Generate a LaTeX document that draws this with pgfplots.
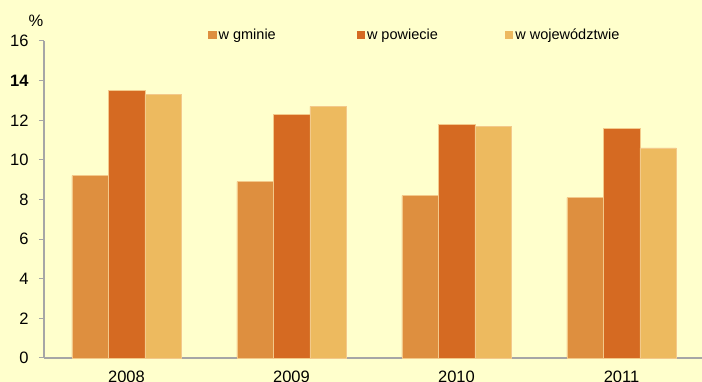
\documentclass[border=0pt]{standalone}
\usepackage{pgfplots}
\pgfplotsset{compat=1.18}
\usepackage{fontspec}
\setmainfont{Liberation Sans}
\definecolor{bg}{HTML}{FFFFCC}
\definecolor{cA}{HTML}{DE8F3F}
\definecolor{cB}{HTML}{D56A22}
\definecolor{cC}{HTML}{EDBA5F}
\definecolor{edge}{HTML}{F3C98A}
\definecolor{axgray}{HTML}{A6A6A6}
\begin{document}
\begin{tikzpicture}[x=1pt,y=1pt]
\useasboundingbox (0,0) rectangle (702,382);
\fill[bg] (0,0) rectangle (702,382);
\begin{axis}[
  at={(44pt,24pt)}, anchor=south west,
  scale only axis, width=660pt, height=317pt,
  xmin=-0.5, xmax=3.5, ymin=0, ymax=16,
  ybar=0pt, bar width=36.5pt,
  axis x line*=bottom, axis y line*=left,
  axis line style={axgray, line width=1.2pt},
  xtick={0,1,2,3}, xticklabels={2008,2009,2010,2011},
  extra x ticks={-0.5,0.5,1.5,2.5}, extra x tick labels={},
  extra x tick style={major tick length=5pt, tick style={axgray, line width=1pt}},
  x tick style={draw=none},
  ytick={0,2,...,16},
  yticklabels={0,2,4,6,8,10,12,\textbf{14},16},
  y tick style={axgray, line width=1pt},
  tick align=outside, major tick length=5pt,
  tick label style={font=\fontsize{16.5}{19}\selectfont, text=black},
  yticklabel style={xshift=-7pt},
  xticklabel style={yshift=-4pt},
  /pgf/number format/assume math mode=true,
  ylabel={\%},
  every axis y label/.style={at={(axis description cs:-0.012,1.064)}, anchor=center, font=\fontsize{16.5}{19}\selectfont},
  legend columns=3,
  legend style={at={(axis description cs:0.2485,1.019)}, anchor=west, draw=none, fill=none,
    font=\fontsize{14.5}{17}\selectfont, inner sep=0pt,
    /tikz/every even column/.append style={column sep=0pt}},
  legend image code/.code={\fill[#1,draw=none] (0pt,-4.2pt) rectangle (8.4pt,4.2pt);},
  enlargelimits=false, clip=false,
]
\addplot[fill=cA, draw=edge, line width=0.5pt] coordinates {(0,9.2) (1,8.9) (2,8.2) (3,8.1)};
\addplot[fill=cB, draw=edge, line width=0.5pt] coordinates {(0,13.5) (1,12.3) (2,11.8) (3,11.6)};
\addplot[fill=cC, draw=edge, line width=0.5pt] coordinates {(0,13.3) (1,12.7) (2,11.7) (3,10.6)};
\addlegendentry{\makebox[136pt][l]{w gminie}}
\addlegendentry{\makebox[136pt][l]{w powiecie}}
\addlegendentry{w województwie}
\end{axis}
\end{tikzpicture}
\end{document}
